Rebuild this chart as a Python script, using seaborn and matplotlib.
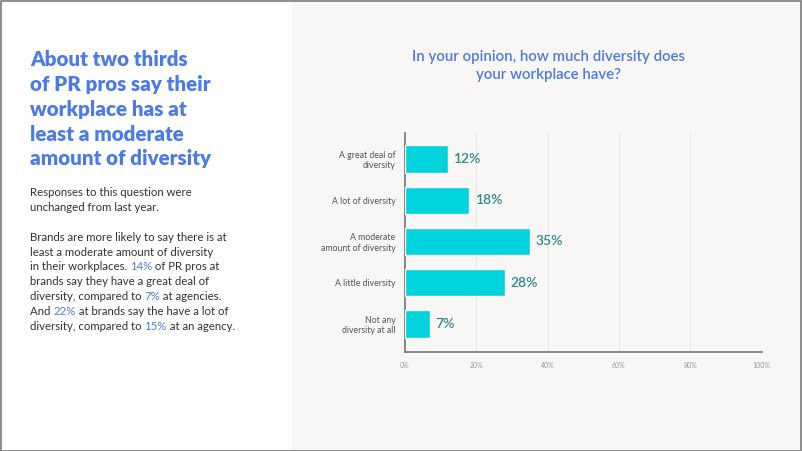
import matplotlib
matplotlib.use("Agg")
import matplotlib.pyplot as plt
from matplotlib.patches import Rectangle
import seaborn as sns
import pandas as pd

# data
categories = ["A great deal of\ndiversity", "A lot of diversity", "A moderate\namount of diversity",
              "A little diversity", "Not any\ndiversity at all"]
values = [12, 18, 35, 28, 7]
xticks = [0, 20, 40, 60, 80, 100]
xtick_labels = ["0%", "20%", "40%", "60%", "80%", "100%"]

headline = ["About two thirds", "of PR pros say their", "workplace has at",
            "least a moderate", "amount of diversity"]
chart_title = "In your opinion, how much diversity does\nyour workplace have?"
# body lines: list of (text, highlighted) segments
body = [
    [("Responses to this question were", False)],
    [("unchanged from last year.", False)],
    [],
    [("Brands are more likely to say there is at", False)],
    [("least a moderate amount of diversity", False)],
    [("in their workplaces. ", False), ("14%", True), (" of PR pros at", False)],
    [("brands say they have a great deal of", False)],
    [("diversity, compared to ", False), ("7%", True), (" at agencies.", False)],
    [("And ", False), ("22%", True), (" at brands say the have a lot of", False)],
    [("diversity, compared to ", False), ("15%", True), (" at an agency.", False)],
]

BLUE = "#4a7be6"
BAR = "#00d3dc"
TEAL = "#2e8a8c"
PANEL = "#f8f7f6"

sns.set_theme(style="white")
plt.rcParams["font.family"] = ["Lato", "DejaVu Sans"]

W, H = 802, 451
fig = plt.figure(figsize=(W / 100, H / 100), dpi=100)
fig.patch.set_facecolor("white")

# right grey panel and outer frame
fig.patches.append(Rectangle((292 / W, 0), 1 - 292 / W, 1, transform=fig.transFigure,
                             facecolor=PANEL, edgecolor="none", zorder=-10))
fig.patches.append(Rectangle((0.5 / W, 0.5 / H), 1 - 1.5 / W, 1 - 1.5 / H, transform=fig.transFigure,
                             facecolor="none", edgecolor="#7a7a7a", linewidth=1.2, zorder=10))

# headline
for i, line in enumerate(headline):
    fig.text(30 / W, 1 - (60 + i * 24.7) / H, line, fontsize=14.8, fontweight="heavy",
             color=BLUE, va="center", ha="left")

# body with inline highlighted numbers
renderer = fig.canvas.get_renderer()
for i, segs in enumerate(body):
    y = 1 - (193 + i * 14.8) / H
    x = 30 / W
    for txt, hl in segs:
        t = fig.text(x, y, txt, fontsize=8.2, color=BLUE if hl else "#333333",
                     fontweight="normal", va="center", ha="left")
        bb = t.get_window_extent(renderer)
        x += bb.width / W

# chart
df = pd.DataFrame({"category": categories, "value": values})
ax = fig.add_axes([405 / W, 1 - 352 / H, (761.5 - 405) / W, (352 - 133) / H])
ax.set_facecolor(PANEL)
sns.barplot(data=df, x="value", y="category", orient="h", color=BAR, width=0.66,
            saturation=1, ax=ax, zorder=3)
ax.set_xlim(0, 100)
ax.set_ylim(4.68, -0.63)
ax.set_xticks(xticks)
ax.set_xticklabels(xtick_labels, fontsize=5, color="#9a9a9a")
ax.set_yticks(range(len(categories)))
ax.set_yticklabels(categories, ha="right", multialignment="right",
                   fontsize=6.3, color="#555555")
ax.tick_params(axis="y", length=0, pad=7)
ax.tick_params(axis="x", length=0, pad=7)
ax.set_xlabel("")
ax.set_ylabel("")
ax.grid(axis="x", color="#e6e6e6", linewidth=0.8, zorder=0)
for s in ["top", "right"]:
    ax.spines[s].set_visible(False)
for s in ["left", "bottom"]:
    ax.spines[s].set_color("#7d7f86")
    ax.spines[s].set_linewidth(1.3)

for i, v in enumerate(values):
    ax.text(v + 1.6, i, f"{v}%", va="center", ha="left", fontsize=10, color=TEAL,
            fontweight="semibold")

fig.text(548 / W, 1 - 66 / H, chart_title, fontsize=10.8, color=BLUE, fontweight="semibold",
         ha="center", va="center", linespacing=1.45)

fig.savefig("out.png", dpi=100, facecolor=fig.get_facecolor())
